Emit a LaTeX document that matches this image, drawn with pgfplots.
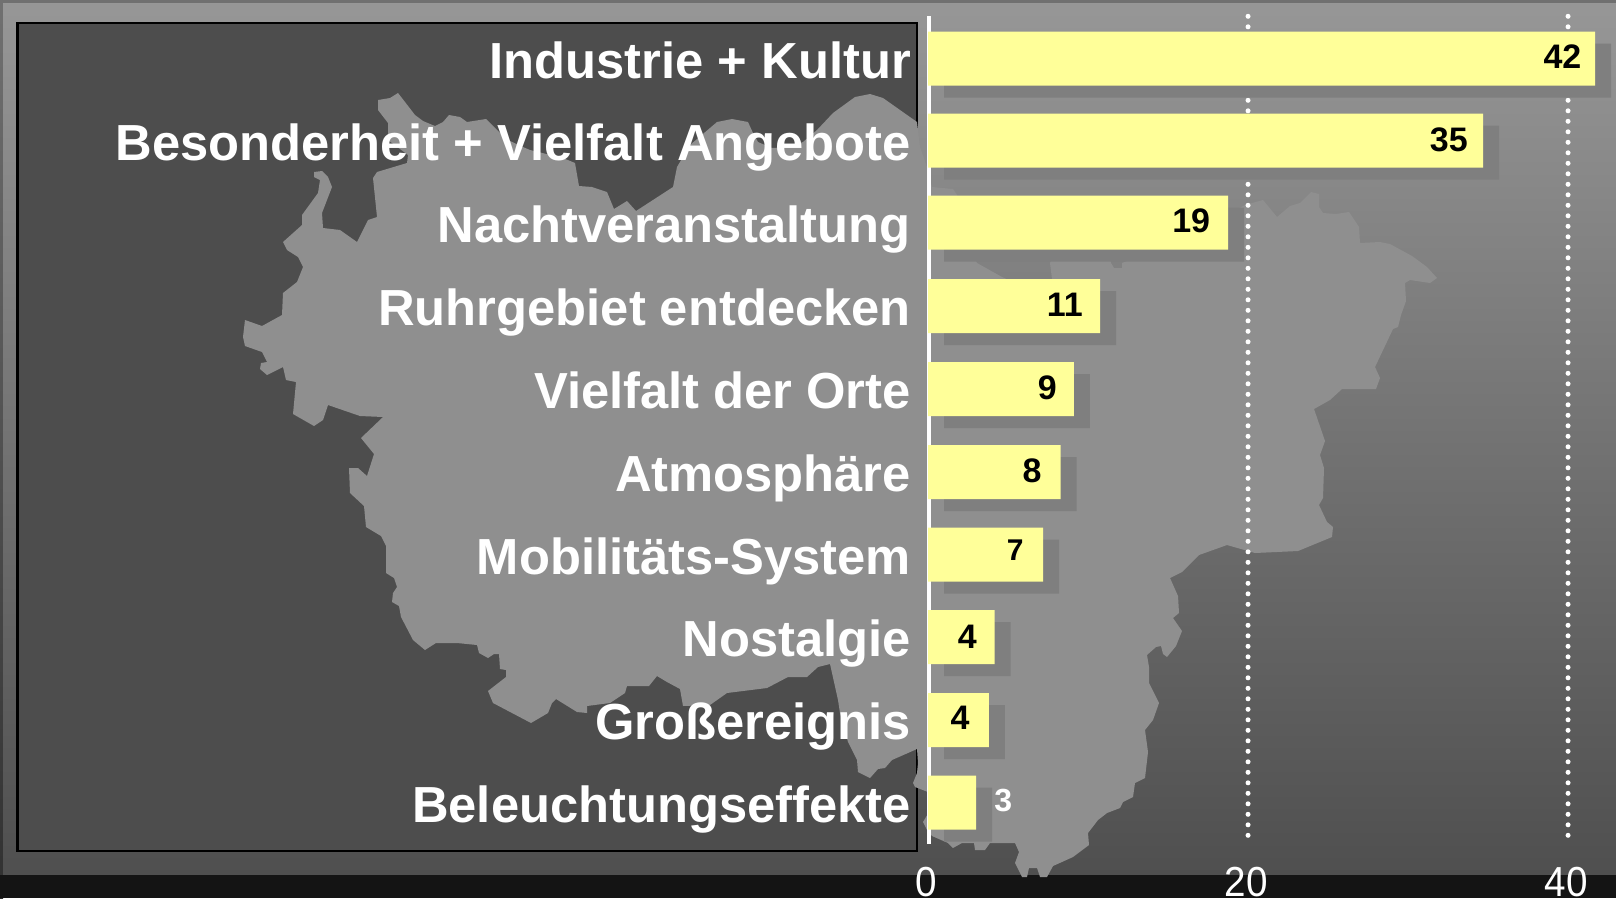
\documentclass[border=0pt]{standalone}
\usepackage{fontspec}
\setmainfont{Liberation Sans}
\usepackage{pgfplots}
\pgfplotsset{compat=1.18}

\definecolor{bartop}{HTML}{FFFF99}
\definecolor{barshadow}{HTML}{7F7F7F}
\definecolor{mapgray}{HTML}{8F8F8F}
\definecolor{panel}{HTML}{4D4D4D}
\definecolor{strip}{HTML}{141414}

\begin{document}
\begin{tikzpicture}
\path[use as bounding box] (0,0) rectangle (1616pt,898pt);
% slide background
\shade[top color=black!56, bottom color=black!81, draw=none] (0,0) rectangle (3pt,898pt);
\fill[black!56] (0,894pt) rectangle (1616pt,898pt);
\shade[top color=white!59!black, bottom color=white!31!black] (3pt,23pt) rectangle (1616pt,894pt);
\fill[strip] (0,0) rectangle (1616pt,23pt);
\draw[fill=panel, draw=black, line width=2.5pt] (17.5pt,47pt) rectangle (917pt,875pt);

% map outline, in pixel coordinates
\begin{axis}[
    at={(0,0)}, anchor=south west,
    scale only axis, width=1616pt, height=898pt,
    xmin=0, xmax=1616, ymin=0, ymax=898, y dir=reverse,
    hide axis, clip=false
]
\addplot[fill=mapgray, draw=none] coordinates {
    (378,100) (390,98) (398,93) (405,102) (415,115) (423,121) (435,126) (443,122) (449,115)
    (460,117) (467,122) (486,119) (497,130) (508,140) (523,147) (530,150) (563,158) (575,163)
    (579,186) (592,187) (607,192) (614,209) (627,201) (636,211) (673,187) (677,167) (690,145)
    (717,122) (732,119) (748,122) (753,133) (758,142) (772,148) (790,147) (803,142) (817,130)
    (833,113) (855,97) (870,94) (883,98) (917,122) (920,147) (927,167) (932,187) (953,189)
    (957,195) (970,250) (977,263) (1002,277) (1020,285) (1040,285) (1052,279) (1050,263)
    (1060,240) (1105,240) (1111,263) (1114,268) (1122,268) (1122,263) (1180,240) (1245,205)
    (1263,200) (1277,217) (1290,206) (1300,203) (1311,192) (1319,194) (1319,207) (1323,213)
    (1336,214) (1349,212) (1359,227) (1360,243) (1380,242) (1390,244) (1412,256) (1427,267)
    (1437,278) (1430,283) (1410,280) (1405,283) (1406,301) (1401,315) (1398,327) (1393,329)
    (1375,367) (1380,378) (1376,389) (1342,389) (1330,400) (1314,409) (1325,441) (1320,455)
    (1324,468) (1323,498) (1319,505) (1327,522) (1333,527) (1332,537) (1298,551) (1255,553)
    (1227,545) (1199,555) (1182,572) (1170,578) (1178,596) (1179,613) (1173,618) (1182,631)
    (1176,646) (1167,657) (1163,654) (1161,646) (1156,647) (1147,655) (1149,667) (1149,683)
    (1159,703) (1153,720) (1145,730) (1148,752) (1145,778) (1135,783) (1133,797) (1123,802)
    (1120,808) (1107,813) (1098,820) (1088,833) (1089,845) (1073,857) (1053,866) (1047,877)
    (1040,877) (1037,868) (1029,868) (1027,877) (1022,877) (1015,863) (1019,852) (1015,843)
    (990,843) (985,850) (975,850) (974,843) (962,843) (953,848) (948,843) (932,836) (927,830)
    (923,822) (929,812) (935,800) (928,792) (915,787) (913,783) (917,773) (918,763) (917,749)
    (892,760) (885,768) (878,769) (870,778) (858,772) (857,760) (848,742) (840,713) (838,700)
    (830,664) (818,667) (807,677) (788,677) (767,688) (727,693) (710,705) (683,706) (680,689)
    (667,682) (657,676) (649,686) (627,686) (625,693) (610,703) (587,706) (587,713) (577,712)
    (556,699) (552,703) (548,713) (531,723) (493,703) (488,691) (506,677) (506,670) (500,669)
    (499,654) (494,654) (488,658) (479,653) (477,645) (457,643) (436,643) (425,650) (413,640)
    (401,617) (399,606) (392,602) (393,593) (397,587) (394,578) (386,573) (386,546) (381,536)
    (366,527) (364,506) (350,493) (349,468) (358,468) (367,476) (374,454) (361,438) (383,417)
    (360,416) (328,405) (323,420) (314,426) (293,414) (296,382) (286,380) (283,367) (267,375)
    (260,369) (261,363) (267,362) (262,352) (245,346) (243,337) (245,320) (262,326) (282,315)
    (283,293) (297,282) (303,267) (298,257) (287,250) (283,242) (302,225) (302,215) (318,193)
    (320,180) (314,177) (314,172) (322,171) (328,177) (332,187) (322,213) (323,228) (340,230)
    (357,242) (368,220) (377,217) (373,178) (377,172) (407,163) (408,155) (388,140) (388,123)
    (378,110)
} -- cycle;
\end{axis}

% bars, x in chart units, y in pixels from the top
\begin{axis}[
    at={(0,0)}, anchor=south west,
    scale only axis, width=1616pt, height=898pt,
    xmin=-58, xmax=43, ymin=0, ymax=898, y dir=reverse,
    clip=false,
    axis line style={draw=none},
    tick style={draw=none},
    major tick length=0pt,
    /pgf/number format/assume math mode=true,
    xtick={0,20,40},
    xticklabel pos=bottom,
    xticklabel style={
        font=\fontsize{42}{42}\selectfont, text=white, anchor=center,
        inner sep=0pt, text height=31pt, text depth=0pt,
        xscale=0.92, xshift=-2pt, yshift=17pt},
    ytick={58.5,140.5,222.5,306,389,472,554.5,637,720,802.5},
    yticklabels={Industrie + Kultur,Besonderheit + Vielfalt Angebote,Nachtveranstaltung,
        Ruhrgebiet entdecken,Vielfalt der Orte,Atmosphäre,Mobilitäts-System,Nostalgie,
        Großereignis,Beleuchtungseffekte},
    yticklabel style={
        font=\fontsize{50.7}{51}\bfseries\selectfont, text=white, anchor=east,
        inner sep=0pt, text height=36pt, text depth=0pt, xshift=911pt, yshift=-1.5pt},
]
% dotted gridlines
\addplot[white, line width=5pt, line cap=round, dash pattern=on 0pt off 10.5pt]
    coordinates {(20,16.3) (20,836)};
\addplot[white, line width=5pt, line cap=round, dash pattern=on 0pt off 10.5pt]
    coordinates {(40,16.3) (40,836)};
% shadow
\addplot[xbar, bar width=54pt, bar shift=0pt, fill=barshadow, draw=none, xshift=16pt, yshift=-12pt]
    coordinates {(41.69,58.5) (34.69,140.5) (18.75,222.5) (10.75,306) (9.12,389) (8.28,472)
                 (7.19,554.5) (4.16,637) (3.81,720) (3.0,802.5)};
% white zero line
\addplot[white, line width=4pt] coordinates {(0.0625,16) (0.0625,844)};
% bars
\addplot[xbar, bar width=54pt, bar shift=0pt, fill=bartop, draw=none]
    coordinates {(41.69,58.5) (34.69,140.5) (18.75,222.5) (10.75,306) (9.12,389) (8.28,472)
                 (7.19,554.5) (4.16,637) (3.81,720) (3.0,802.5)};
% value labels
\addplot[draw=none, point meta=explicit symbolic,
    nodes near coords={\pgfplotspointmeta}, nodes near coords align=center,
    every node near coord/.append style={anchor=center, inner sep=0pt, text=black,
        text height=24.5pt, text depth=0pt, font=\fontsize{34}{34}\bfseries\selectfont}]
    coordinates {(39.65,56.6)[42] (32.55,139.5)[35] (16.45,220.5)[19] (8.55,304)[11] (7.45,387.5)[9]
                 (6.5,470)[8] (2.45,636)[4] (2.0,717)[4]};
\addplot[draw=none, point meta=explicit symbolic,
    nodes near coords={\pgfplotspointmeta}, nodes near coords align=center,
    every node near coord/.append style={anchor=center, inner sep=0pt, text=black,
        text height=22pt, text depth=0pt, font=\fontsize{30}{30}\bfseries\selectfont}]
    coordinates {(5.45,549)[7]};
\addplot[draw=none, point meta=explicit symbolic,
    nodes near coords={\pgfplotspointmeta}, nodes near coords align=center,
    every node near coord/.append style={anchor=center, inner sep=0pt, text=white,
        text height=23pt, text depth=0pt, font=\fontsize{32}{32}\bfseries\selectfont}]
    coordinates {(4.7,800)[3]};
\end{axis}
\end{tikzpicture}
\end{document}
